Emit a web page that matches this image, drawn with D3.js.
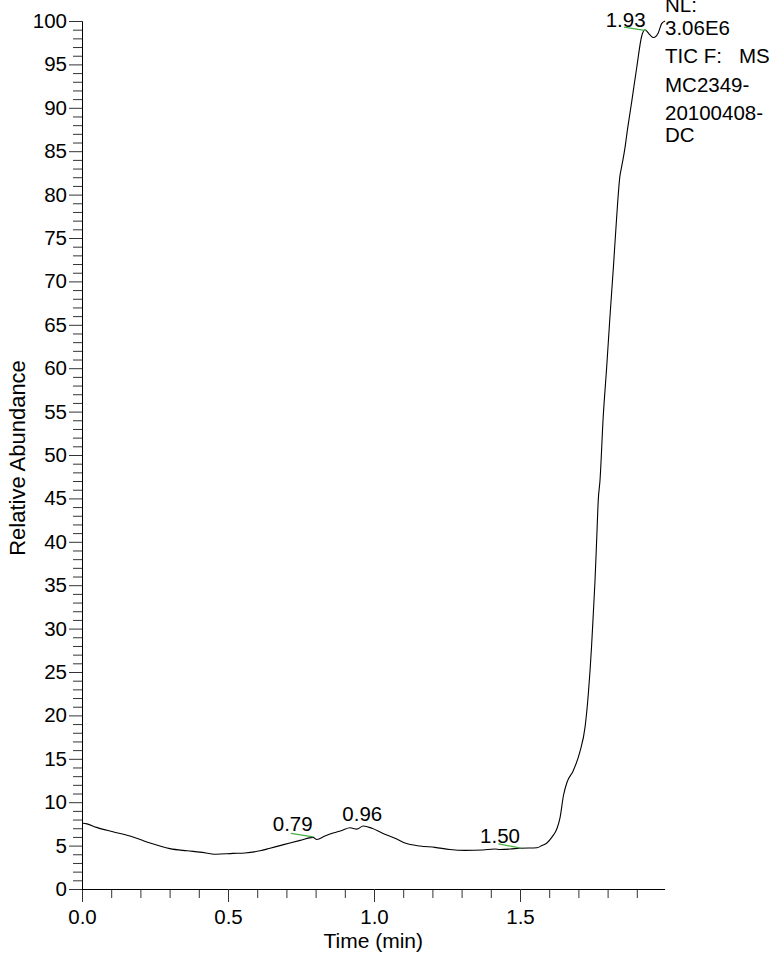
<!DOCTYPE html>
<html>
<head>
<meta charset="utf-8">
<script src="https://cdn.jsdelivr.net/npm/d3@7"></script>
<style>
  body { margin: 0; background: #fff; }
  svg { display: block; }
  text { font-family: "Liberation Sans", Arial, sans-serif; fill: #000; }
</style>
</head>
<body>
<div id="chart"></div>
<script>
const width = 772;
const height = 954;

// chromatogram trace: time (min), relative abundance (%)
const times = [
  0.000, 0.017, 0.050, 0.106, 0.164, 0.199, 0.233, 0.267, 0.301, 0.360,
  0.404, 0.459, 0.517, 0.558, 0.610, 0.644, 0.678, 0.712, 0.747, 0.791,
  0.804, 0.832, 0.860, 0.890, 0.918, 0.941, 0.963, 0.993, 1.031, 1.072,
  1.106, 1.158, 1.209, 1.260, 1.312, 1.373, 1.414, 1.432, 1.466, 1.500,
  1.558, 1.575, 1.592, 1.610, 1.627, 1.637, 1.649, 1.661, 1.682, 1.705,
  1.723, 1.734, 1.745, 1.751, 1.757, 1.763, 1.768, 1.774, 1.785, 1.797,
  1.808, 1.820, 1.831, 1.842, 1.848, 1.860, 1.866, 1.883, 1.900, 1.917,
  1.928, 1.945, 1.957, 1.973, 1.985, 1.997
];
const abundance = [
  7.6, 7.5, 7.1, 6.6, 6.1, 5.7, 5.3, 4.95, 4.65, 4.4,
  4.25, 4.0, 4.1, 4.15, 4.4, 4.7, 5.0, 5.3, 5.6, 5.95,
  5.7, 6.1, 6.45, 6.75, 7.05, 6.9, 7.25, 7.0, 6.4, 5.85,
  5.3, 4.95, 4.8, 4.55, 4.45, 4.5, 4.6, 4.55, 4.6, 4.7,
  4.75, 5.0, 5.3, 6.0, 7.0, 8.2, 10.8, 12.3, 13.6, 15.8,
  18.7, 22.5, 27.9, 31.7, 35.6, 40.6, 44.8, 47.1, 54.4, 60.2,
  65.9, 71.7, 77.4, 82.1, 83.2, 85.5, 87.0, 90.8, 94.7, 98.3,
  99.0, 98.4, 98.1, 98.6, 99.7, 100.0
];

// peak labels
const peakTimes = [0.79, 0.96, 1.50, 1.93];
const peakLabelLevel = [6.4, 7.6, 5.1, 99.1];
const peakAnchor = ["end", "middle", "end", "end"];

// green peak-marker segments: [t0, v0, t1, v1]
const peakMarks = [
  [0.715, 6.4, 0.792, 6.0],
  [1.426, 5.2, 1.503, 4.7],
  [1.856, 99.3, 1.932, 98.9]
];

const xMajor = [0.0, 0.5, 1.0, 1.5];
const xMinor = [0.1, 0.2, 0.3, 0.4, 0.6, 0.7, 0.8, 0.9, 1.1, 1.2, 1.3, 1.4, 1.6, 1.7, 1.8, 1.9];
const yMajor = [0, 5, 10, 15, 20, 25, 30, 35, 40, 45, 50, 55, 60, 65, 70, 75, 80, 85, 90, 95, 100];
const yMinor = d3.range(0, 101).filter(d => d % 5 !== 0);

const infoLines = ["NL:", "3.06E6", "TIC F:   MS", "MC2349-", "20100408-", "DC"];
const infoY = [12, 35, 63, 91.5, 120, 141.5];

const xTitle = "Time (min)";
const yTitle = "Relative Abundance";

const plot = { left: 82, top: 21, bottom: 889, pxPerMin: 292, xMax: 1.995 };

const svg = d3.select("#chart")
  .append("svg")
  .attr("width", width)
  .attr("height", height);

const x = d3.scaleLinear()
  .domain([0, plot.xMax])
  .range([plot.left, plot.left + plot.xMax * plot.pxPerMin]);

const y = d3.scaleLinear()
  .domain([0, 100])
  .range([plot.bottom, plot.top]);

// axes
function styleAxis(g) {
  g.selectAll("path").attr("stroke", "#000");
  g.selectAll("line").attr("stroke", "#333");
  g.selectAll("text")
    .style("font-family", '"Liberation Sans", Arial, sans-serif')
    .style("font-size", "20.5px")
    .attr("fill", "#000");
}

svg.append("g")
  .attr("transform", `translate(0,${plot.bottom})`)
  .call(d3.axisBottom(x).tickValues(xMinor).tickSize(9).tickSizeOuter(0).tickFormat(""))
  .call(styleAxis);

svg.append("g")
  .attr("transform", `translate(0,${plot.bottom})`)
  .call(d3.axisBottom(x).tickValues(xMajor).tickSize(13).tickSizeOuter(0).tickPadding(7).tickFormat(d3.format(".1f")))
  .call(styleAxis);

svg.append("g")
  .attr("transform", `translate(${plot.left},0)`)
  .call(d3.axisLeft(y).tickValues(yMinor).tickSize(9).tickSizeOuter(0).tickFormat(""))
  .call(styleAxis);

svg.append("g")
  .attr("transform", `translate(${plot.left},0)`)
  .call(d3.axisLeft(y).tickValues(yMajor).tickSize(13).tickSizeOuter(0).tickPadding(2))
  .call(styleAxis);

// axis titles
svg.append("text")
  .attr("x", (x.range()[0] + x.range()[1]) / 2)
  .attr("y", 948)
  .attr("text-anchor", "middle")
  .style("font-size", "21px")
  .text(xTitle);

svg.append("text")
  .attr("transform", `translate(25,${(plot.top + plot.bottom) / 2 + 3}) rotate(-90)`)
  .attr("text-anchor", "middle")
  .style("font-size", "22px")
  .text(yTitle);

// trace
const trace = d3.zip(times, abundance);
const line = d3.line()
  .x(d => x(d[0]))
  .y(d => y(d[1]))
  .curve(d3.curveMonotoneX);

svg.append("path")
  .datum(trace)
  .attr("fill", "none")
  .attr("stroke", "#000")
  .attr("stroke-width", 1.1)
  .attr("d", line);

// peak markers
svg.append("g")
  .selectAll("line")
  .data(peakMarks)
  .join("line")
  .attr("x1", d => x(d[0]))
  .attr("y1", d => y(d[1]))
  .attr("x2", d => x(d[2]))
  .attr("y2", d => y(d[3]))
  .attr("stroke", "#44b044")
  .attr("stroke-width", 1.2);

// peak labels
svg.append("g")
  .selectAll("text")
  .data(peakTimes)
  .join("text")
  .attr("x", d => x(d))
  .attr("y", (d, i) => y(peakLabelLevel[i]) - 2)
  .attr("text-anchor", (d, i) => peakAnchor[i])
  .style("font-size", "20.5px")
  .text(d => d3.format(".2f")(d));

// info block
svg.append("g")
  .selectAll("text")
  .data(infoLines)
  .join("text")
  .attr("x", 665)
  .attr("y", (d, i) => infoY[i])
  .style("font-size", "20.5px")
  .attr("xml:space", "preserve")
  .text(d => d);
</script>
</body>
</html>
